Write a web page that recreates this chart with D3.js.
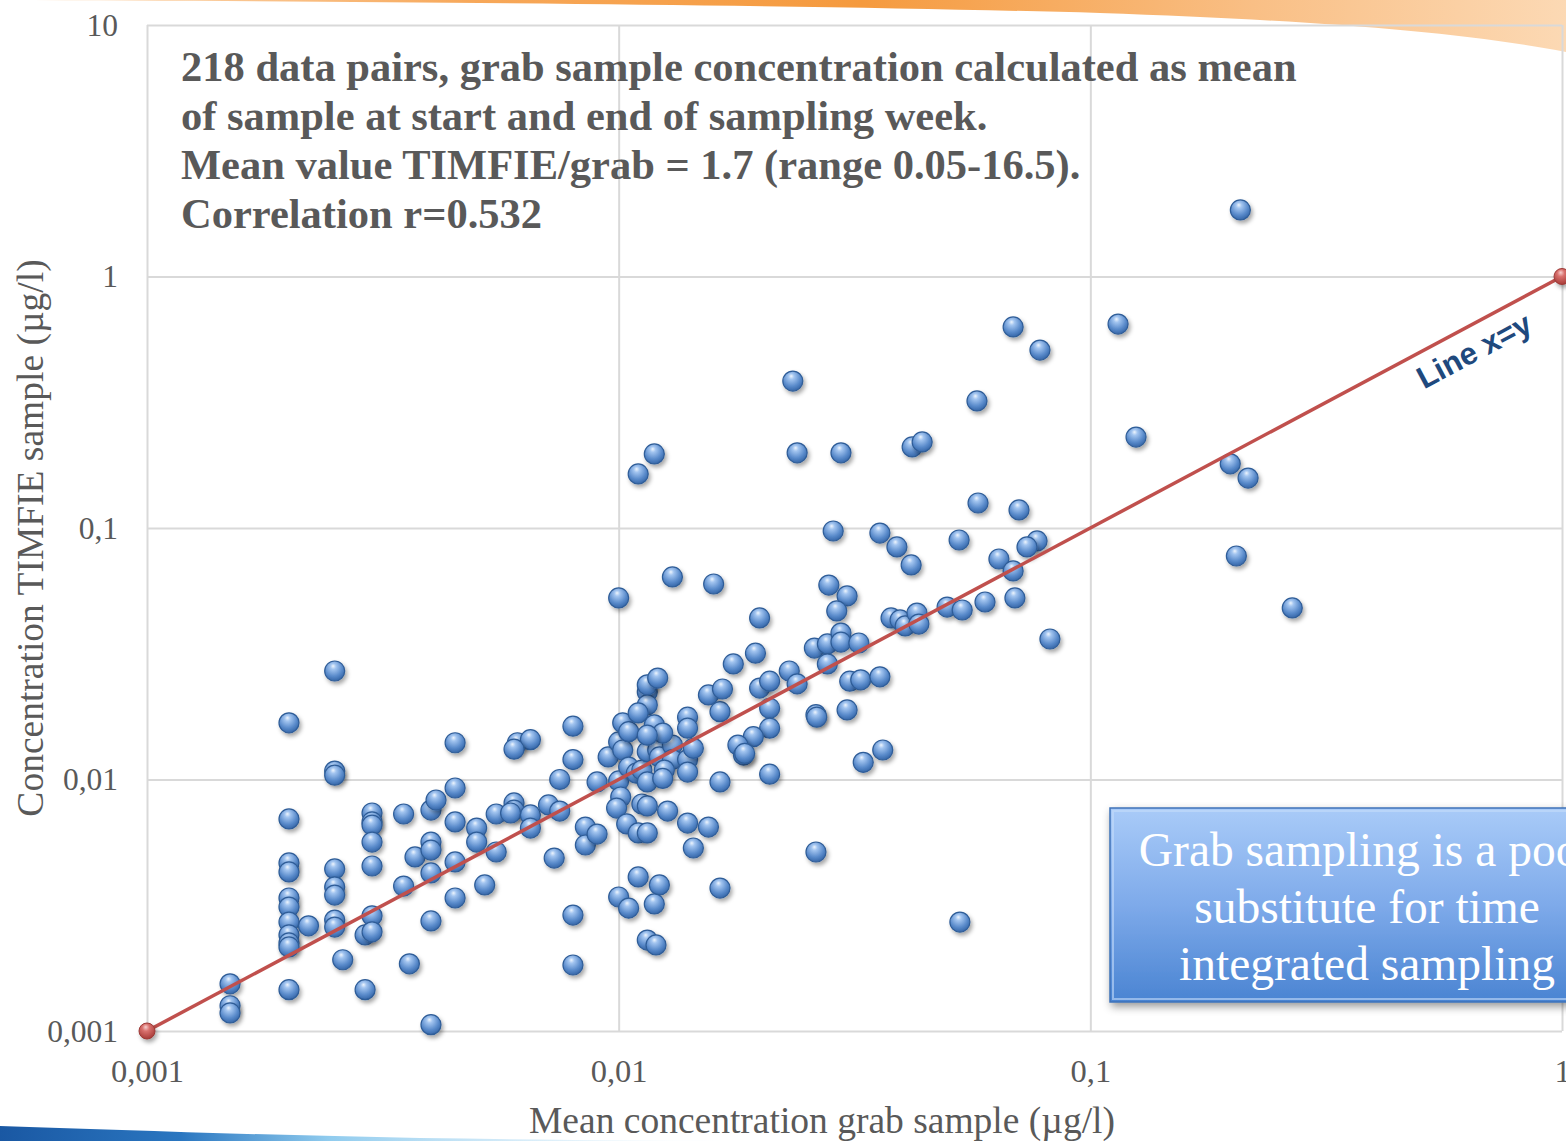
<!DOCTYPE html>
<html>
<head>
<meta charset="utf-8">
<script src="https://cdn.jsdelivr.net/npm/d3@7"></script>
<style>
  html, body { margin: 0; padding: 0; background: #fff; }
  svg { display: block; }
</style>
</head>
<body>
<script>

/* DATA */
const xTicks = [0.001, 0.01, 0.1, 1];
const yTicks = [0.001, 0.01, 0.1, 1, 10];
const noteLines = [
  "218 data pairs, grab sample concentration calculated as mean",
  "of sample at start and end of sampling week.",
  "Mean value TIMFIE/grab = 1.7 (range 0.05-16.5).",
  "Correlation r=0.532"
];
const boxLines = ["Grab sampling is a poor", "substitute for time", "integrated sampling"];
const xTitle = "Mean concentration grab sample (µg/l)";
const yTitle = "Concentration TIMFIE sample (µg/l)";
const lineLabel = "Line x=y";
const lineXY = [0.001, 1];

// mean grab sample concentration (µg/l)
const grabX = [
  0.0015,0.0015,0.0015,0.002,0.002,0.002,0.002,0.002,0.002,0.002,
  0.002,0.002,0.002,0.002,0.0022,0.0025,0.0025,0.0025,0.0025,0.0025,
  0.0025,0.0025,0.0025,0.0026,0.0029,0.0029,0.003,0.003,0.003,0.003,
  0.003,0.003,0.003,0.0035,0.0035,0.0036,0.0037,0.004,0.0041,0.004,
  0.004,0.004,0.004,0.004,0.0045,0.0045,0.0045,0.0045,0.0045,0.005,
  0.005,0.0052,0.0055,0.0055,0.006,0.006,0.0059,0.0061,0.0065,0.006,
  0.0065,0.0065,0.0071,0.0073,0.0075,0.0075,0.008,0.008,0.008,0.008,
  0.0085,0.0085,0.009,0.009,0.0095,0.01,0.0102,0.0102,0.0105,0.01,
  0.01,0.0101,0.0099,0.0104,0.011,0.0115,0.0112,0.0115,0.0105,0.0109,
  0.0112,0.0115,0.0115,0.0121,0.0122,0.013,0.013,0.0125,0.0124,0.0115,
  0.0115,0.011,0.0119,0.0124,0.0115,0.0115,0.0121,0.014,0.014,0.014,
  0.014,0.0144,0.0155,0.0164,0.0166,0.0175,0.0164,0.0127,0.014,0.0155,
  0.0144,0.011,0.0122,0.0119,0.0164,0.01,0.0105,0.0115,0.012,0.013,
  0.0159,0.011,0.0119,0.0199,0.0195,0.023,0.0239,0.0199,0.0209,0.0209,
  0.0209,0.0193,0.0179,0.0184,0.0185,0.0262,0.0263,0.0305,0.0209,0.0363,
  0.033,0.0262,0.0529,0.0285,0.0358,0.0389,0.0417,0.0279,0.0305,0.029,
  0.0378,0.0395,0.0405,0.0429,0.0433,0.0497,0.026,0.0277,0.0296,0.0296,
  0.0323,0.0277,0.0309,0.0326,0.0358,0.0234,0.0575,0.0782,0.0239,0.0296,
  0.0419,0.044,0.0578,0.0706,0.0527,0.0771,0.0734,0.208,0.0686,0.1145,
  0.125,0.198,0.216,0.204,0.268,0.064,0.0686,0.0692,0.0598,0.0535,0.0821
];

// TIMFIE sample concentration (µg/l)
const timfieY = [
  0.00154,0.00126,0.00118,0.0168,0.00697,0.00466,0.00429,0.00338,0.00311,0.00271,
  0.00241,0.00224,0.00216,0.00146,0.00262,0.027,0.0108,0.0104,0.00441,0.00374,
  0.00347,0.00276,0.00259,0.00192,0.00241,0.00146,0.00736,0.00678,0.00659,0.00564,
  0.00453,0.00287,0.00248,0.00729,0.00377,0.00185,0.00492,0.00756,0.00829,0.00564,
  0.00524,0.00425,0.00274,0.00106,0.014,0.00925,0.00678,0.0047,0.00338,0.00641,
  0.00564,0.00381,0.00729,0.00515,0.00807,0.00756,0.00736,0.014,0.0144,0.0132,
  0.00723,0.00641,0.00792,0.00487,0.01,0.00749,0.0163,0.012,0.00289,0.00183,
  0.00647,0.00549,0.00607,0.00978,0.0123,0.0141,0.0131,0.0168,0.0155,0.0527,
  0.00987,0.00852,0.0077,0.00666,0.00613,0.00613,0.00799,0.00785,0.0112,0.0106,
  0.0109,0.00978,0.0129,0.0131,0.0123,0.0137,0.012,0.0109,0.0101,0.0223,
  0.0198,0.0184,0.0165,0.0153,0.015,0.0238,0.0253,0.0177,0.016,0.012,
  0.0107,0.0133,0.0217,0.0186,0.0229,0.0288,0.00978,0.00749,0.00671,0.00647,
  0.00534,0.0041,0.00381,0.0032,0.0037,0.00341,0.00308,0.0023,0.0022,0.0639,
  0.0599,0.164,0.197,0.0439,0.0318,0.027,0.024,0.0231,0.0246,0.0192,
  0.016,0.0148,0.0137,0.0125,0.0127,0.0181,0.0177,0.0189,0.0105,0.0131,
  0.0117,0.00515,0.00271,0.0973,0.0955,0.0841,0.0713,0.0593,0.0537,0.0468,
  0.0439,0.0431,0.0408,0.0459,0.0415,0.0485,0.0333,0.0346,0.0382,0.0352,
  0.0349,0.0288,0.0246,0.0249,0.0256,0.384,0.32,0.51,0.199,0.199,
  0.21,0.22,0.1257,0.118,0.0896,0.0888,0.0841,1.84,0.63,0.647,
  0.23,0.18,0.158,0.0774,0.0481,0.0753,0.0675,0.0527,0.0508,0.0472,0.0362
];

/* LAYOUT */
const WIDTH = 1566;
const HEIGHT = 1141;
const plot = {left: 147, top: 25, right: 1562, bottom: 1031};
const serif = "'Liberation Serif', 'Times New Roman', serif";
const sans = "'Liberation Sans', Arial, sans-serif";
const textGray = "#595959";

const svg = d3.select("body")
    .append("svg")
    .attr("width", WIDTH)
    .attr("height", HEIGHT);

const defs = svg.append("defs");

// orange swoosh on top
const orange = defs.append("linearGradient").attr("id", "orange");
orange.append("stop").attr("offset", "0%").attr("stop-color", "#fde3c6");
orange.append("stop").attr("offset", "30%").attr("stop-color", "#f7a85a");
orange.append("stop").attr("offset", "55%").attr("stop-color", "#f59a3e");
orange.append("stop").attr("offset", "80%").attr("stop-color", "#f9bf85");
orange.append("stop").attr("offset", "100%").attr("stop-color", "#fcd9b4");

const blueBar = defs.append("linearGradient").attr("id", "bluebar");
blueBar.append("stop").attr("offset", "0%").attr("stop-color", "#1a58a3");
blueBar.append("stop").attr("offset", "22%").attr("stop-color", "#2a76c0");
blueBar.append("stop").attr("offset", "40%").attr("stop-color", "#8fcbee");
blueBar.append("stop").attr("offset", "100%").attr("stop-color", "#ffffff").attr("stop-opacity", 0);

const sphere = defs.append("radialGradient").attr("id", "sphere")
    .attr("cx", "45%").attr("cy", "35%").attr("r", "65%")
    .attr("fx", "42%").attr("fy", "25%");
sphere.append("stop").attr("offset", "0%").attr("stop-color", "#eef5fd");
sphere.append("stop").attr("offset", "22%").attr("stop-color", "#a3c5f0");
sphere.append("stop").attr("offset", "68%").attr("stop-color", "#5a8bcb");
sphere.append("stop").attr("offset", "100%").attr("stop-color", "#3566a8");

const redSphere = defs.append("radialGradient").attr("id", "redsphere")
    .attr("cx", "45%").attr("cy", "35%").attr("r", "65%")
    .attr("fx", "42%").attr("fy", "25%");
redSphere.append("stop").attr("offset", "0%").attr("stop-color", "#f6d0cf");
redSphere.append("stop").attr("offset", "35%").attr("stop-color", "#d9716e");
redSphere.append("stop").attr("offset", "100%").attr("stop-color", "#a83b38");

const boxFill = defs.append("linearGradient").attr("id", "boxfill")
    .attr("x1", 0).attr("y1", 0).attr("x2", 0).attr("y2", 1);
boxFill.append("stop").attr("offset", "0%").attr("stop-color", "#a9cbf8");
boxFill.append("stop").attr("offset", "50%").attr("stop-color", "#7eaaea");
boxFill.append("stop").attr("offset", "100%").attr("stop-color", "#4a84d2");

const shadow = defs.append("filter").attr("id", "shadow")
    .attr("x", "-50%").attr("y", "-50%").attr("width", "200%").attr("height", "200%");
shadow.append("feDropShadow")
    .attr("dx", 2).attr("dy", 3).attr("stdDeviation", 2)
    .attr("flood-color", "#000").attr("flood-opacity", 0.35);

const boxShadow = defs.append("filter").attr("id", "boxshadow")
    .attr("x", "-10%").attr("y", "-10%").attr("width", "130%").attr("height", "140%");
boxShadow.append("feDropShadow")
    .attr("dx", 2).attr("dy", 4).attr("stdDeviation", 4)
    .attr("flood-color", "#000").attr("flood-opacity", 0.4);

/* DECORATION */
svg.append("path")
    .attr("d", "M0,0 L1566,0 L1566,52 C1450,30 1300,20 1100,13 C850,6 500,2 0,0 Z")
    .attr("fill", "url(#orange)");

svg.append("path")
    .attr("d", "M0,1126 C120,1130 260,1135 420,1138 C560,1140 700,1141 820,1141 L0,1141 Z")
    .attr("fill", "url(#bluebar)");

/* SCALES */
const x = d3.scaleLog()
    .domain([0.001, 1])
    .range([plot.left, plot.right]);

const y = d3.scaleLog()
    .domain([0.001, 10])
    .range([plot.bottom, plot.top]);

const locale = d3.formatLocale({decimal: ",", thousands: " ", grouping: [3], currency: ["", ""]});
const fmt = locale.format("~g");

/* GRID */
const grid = svg.append("g");

grid.append("g")
    .attr("transform", `translate(0,${plot.bottom})`)
    .call(d3.axisBottom(x).tickValues(xTicks).tickSize(-(plot.bottom - plot.top)).tickFormat(""))
    .call(g => g.select(".domain").remove())
    .call(g => g.selectAll("line").attr("stroke", "#d9d9d9").attr("stroke-width", 2));

grid.append("g")
    .attr("transform", `translate(${plot.left},0)`)
    .call(d3.axisLeft(y).tickValues(yTicks).tickSize(-(plot.right - plot.left)).tickFormat(""))
    .call(g => g.select(".domain").remove())
    .call(g => g.selectAll("line").attr("stroke", "#d9d9d9").attr("stroke-width", 2));

/* AXES */
svg.append("g")
    .attr("transform", `translate(0,${plot.bottom + 25})`)
    .call(d3.axisBottom(x).tickValues(xTicks).tickSize(0).tickFormat(fmt))
    .call(g => g.select(".domain").remove())
    .call(g => g.selectAll("text")
        .attr("fill", textGray)
        .attr("font-family", serif)
        .attr("font-size", 32.5)
        .attr("dy", "0.71em"));

svg.append("g")
    .attr("transform", `translate(${plot.left - 26},0)`)
    .call(d3.axisLeft(y).tickValues(yTicks).tickSize(0).tickFormat(fmt))
    .call(g => g.select(".domain").remove())
    .call(g => g.selectAll("text")
        .attr("fill", textGray)
        .attr("font-family", serif)
        .attr("font-size", 31.5));

svg.append("text")
    .attr("x", 822)
    .attr("y", 1133)
    .attr("text-anchor", "middle")
    .attr("fill", textGray)
    .attr("font-family", serif)
    .attr("font-size", 37.5)
    .text(xTitle);

svg.append("text")
    .attr("transform", "translate(43,538) rotate(-90)")
    .attr("text-anchor", "middle")
    .attr("fill", textGray)
    .attr("font-family", serif)
    .attr("font-size", 37.5)
    .text(yTitle);

/* NOTE */
svg.append("g")
    .selectAll("text")
    .data(noteLines)
    .enter()
    .append("text")
    .attr("x", 181)
    .attr("y", (d, i) => 81 + i * 49)
    .attr("fill", textGray)
    .attr("font-family", serif)
    .attr("font-weight", "bold")
    .attr("font-size", 42.5)
    .text(d => d);

/* POINTS */
const pairs = grabX.map((v, i) => [v, timfieY[i]]);

svg.append("g")
    .selectAll("circle")
    .data(pairs)
    .enter()
    .append("circle")
    .attr("cx", d => x(d[0]))
    .attr("cy", d => y(d[1]))
    .attr("r", 10)
    .attr("fill", "url(#sphere)")
    .attr("stroke", "#2f5d98")
    .attr("stroke-width", 1.2)
    .attr("filter", "url(#shadow)");

/* LINE X=Y */
const line = d3.line()
    .x(d => x(d))
    .y(d => y(d));

svg.append("path")
    .datum(lineXY)
    .attr("d", line)
    .attr("fill", "none")
    .attr("stroke", "#c0504d")
    .attr("stroke-width", 3.5);

svg.append("g")
    .selectAll("circle")
    .data(lineXY)
    .enter()
    .append("circle")
    .attr("cx", d => x(d))
    .attr("cy", d => y(d))
    .attr("r", 8)
    .attr("fill", "url(#redsphere)")
    .attr("stroke", "#9c3a37")
    .attr("stroke-width", 1)
    .attr("filter", "url(#shadow)");

const angle = Math.atan2(y(1) - y(0.001), x(1) - x(0.001)) * 180 / Math.PI;
svg.append("text")
    .attr("transform", `translate(1479,360) rotate(${angle})`)
    .attr("text-anchor", "middle")
    .attr("fill", "#1f497d")
    .attr("font-family", sans)
    .attr("font-weight", "bold")
    .attr("font-size", 31)
    .text(lineLabel);

/* BOX */
const box = svg.append("g");

box.append("rect")
    .attr("x", 1110)
    .attr("y", 808)
    .attr("width", 520)
    .attr("height", 194)
    .attr("fill", "url(#boxfill)")
    .attr("stroke", "#3f72b8")
    .attr("stroke-width", 1.5)
    .attr("filter", "url(#boxshadow)");

box.append("rect")
    .attr("x", 1113)
    .attr("y", 811)
    .attr("width", 514)
    .attr("height", 188)
    .attr("fill", "none")
    .attr("stroke", "#c5dcfa")
    .attr("stroke-opacity", 0.6)
    .attr("stroke-width", 2);

box.selectAll("text")
    .data(boxLines)
    .enter()
    .append("text")
    .attr("x", 1367)
    .attr("y", (d, i) => 866 + i * 57)
    .attr("text-anchor", "middle")
    .attr("fill", "#ffffff")
    .attr("font-family", serif)
    .attr("font-size", 47.5)
    .text(d => d);

</script>
</body>
</html>
